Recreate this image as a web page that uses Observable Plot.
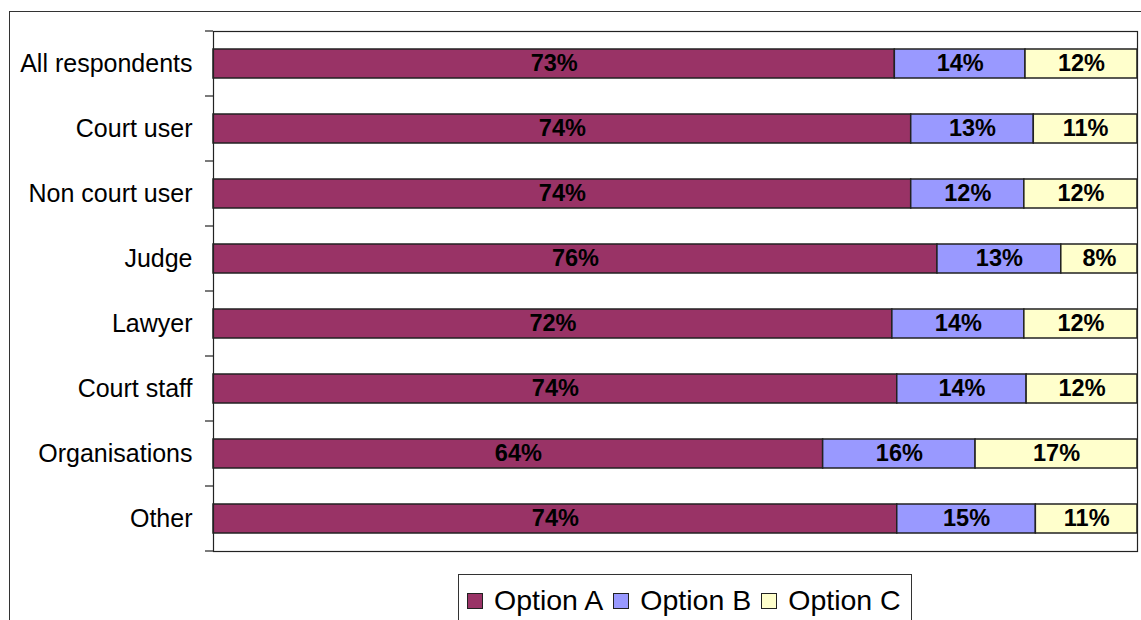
<!DOCTYPE html>
<html>
<head>
<meta charset="utf-8">
<script src="https://cdn.jsdelivr.net/npm/d3@7"></script>
<script src="https://cdn.jsdelivr.net/npm/@observablehq/plot@0.6"></script>
<style>
  html, body { margin: 0; padding: 0; background: #fff; overflow: hidden; }
  #wrap { position: relative; width: 1141px; height: 620px; font-family: Arial, "Liberation Sans", sans-serif; }
  #outer { position: absolute; left: 9px; top: 11px; width: 1150px; height: 650px; border: 1.5px solid #333; box-sizing: border-box; }
  #chart { position: absolute; left: 0; top: 0; }
  #legend { position: absolute; left: 458px; top: 574px; width: 454px; height: 70px; border: 1.5px solid #333; box-sizing: border-box; background: #fff;
            display: flex; align-items: flex-start; padding-top: 9px; padding-left: 8px; font-size: 28.5px; color: #000; }
  .item { display: flex; align-items: center; margin-right: 10px; }
  .sw { width: 16px; height: 16px; border: 1.5px solid #222; margin-right: 11px; box-sizing: border-box; }
</style>
</head>
<body>
<div id="wrap">
  <div id="outer"></div>
  <div id="chart"></div>
  <div id="legend"></div>
</div>
<script>
const categories = ["All respondents", "Court user", "Non court user", "Judge", "Lawyer", "Court staff", "Organisations", "Other"];
const options = ["Option A", "Option B", "Option C"];
const optionA = [73, 74, 74, 76, 72, 74, 64, 74];
const optionB = [14, 13, 12, 13, 14, 14, 16, 15];
const optionC = [12, 11, 12, 8, 12, 12, 17, 11];
const colors = ["#993366", "#9999FF", "#FFFFCC"];

const series = [optionA, optionB, optionC];
const table = [];
categories.forEach((cat, i) => {
  options.forEach((opt, j) => table.push({cat, option: opt, value: series[j][i]}));
});

const chart = Plot.plot({
  width: 1141,
  height: 560,
  marginTop: 31,
  marginLeft: 213,
  marginRight: 4,
  marginBottom: 9,
  style: { fontFamily: "Arial, 'Liberation Sans', sans-serif", background: "transparent" },
  x: { axis: null, domain: [0, 1] },
  y: { domain: categories, paddingInner: 0.56, paddingOuter: 0.28, label: null },
  color: { domain: options, range: colors },
  marks: [
    Plot.barX(table, Plot.stackX({x: "value", y: "cat", fill: "option", offset: "normalize", stroke: "#222", strokeWidth: 1.5})),
    Plot.text(table, Plot.stackX({x: "value", y: "cat", z: "option", offset: "normalize", text: d => d.value + "%",
      fontSize: 23.5, fontWeight: "bold", fill: "#000", dy: -1})),
    Plot.frame({stroke: "#222", strokeWidth: 1.2}),
    Plot.axisY({tickSize: 0, tickPadding: 21, fontSize: 25, fill: "#000", label: null})
  ]
});
document.getElementById("chart").appendChild(chart);

// boundary ticks between categories, from the library's y scale
const ys = chart.scale("y");
const svg = d3.select(chart);
const y0 = ys.range[0];
const g = svg.append("g").attr("stroke", "#222").attr("stroke-width", 1.2);
for (let i = 0; i <= categories.length; i++) {
  const yy = y0 + i * ys.step;
  g.append("line").attr("x1", 205).attr("x2", 213).attr("y1", yy).attr("y2", yy);
}

const legend = d3.select("#legend");
options.forEach((opt, j) => {
  const it = legend.append("div").attr("class", "item");
  it.append("div").attr("class", "sw").style("background", colors[j]);
  it.append("span").text(opt);
});
</script>
</body>
</html>
